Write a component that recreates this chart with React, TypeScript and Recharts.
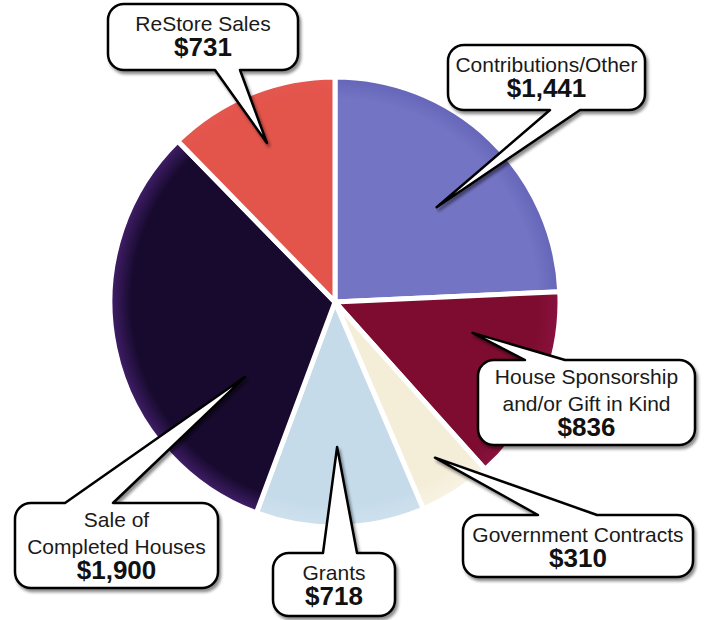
import React from 'react'
import { PieChart, Pie, Cell } from 'recharts'

// Income sources (in thousands), clockwise from 12 o'clock
const categories = [
  'Contributions/Other',
  'House Sponsorship and/or Gift in Kind',
  'Government Contracts',
  'Grants',
  'Sale of Completed Houses',
  'ReStore Sales',
]
const values = [1441, 836, 310, 718, 1900, 731]
const valueLabels = ['$1,441', '$836', '$310', '$718', '$1,900', '$731']
const labelLines = [
  ['Contributions/Other'],
  ['House Sponsorship', 'and/or Gift in Kind'],
  ['Government Contracts'],
  ['Grants'],
  ['Sale of', 'Completed Houses'],
  ['ReStore Sales'],
]

const colors = [
  { inner: '#7474c4', outer: '#6464b8' },
  { inner: '#7e0c30', outer: '#8a1240' },
  { inner: '#f4eed9', outer: '#f8f3e4' },
  { inner: '#c6dbea', outer: '#cfe1ee' },
  { inner: '#170a2e', outer: '#45206e' },
  { inner: '#e3544b', outer: '#e4574f' },
]

// callout bubble layout (box, pointer base on a side, tip relative to slice middle)
const bubbles = [
  { x: 448, y: 45, w: 197, h: 65, side: 'bottom', b1: 550, b2: 580, shift: -3.3, r: 139 },
  { x: 478, y: 360, w: 217, h: 85, side: 'top', b1: 525, b2: 565, shift: 10.1, r: 141 },
  { x: 463, y: 515, w: 230, h: 62, side: 'top', b1: 538, b2: 597, shift: 0.2, r: 185 },
  { x: 273, y: 553, w: 122, h: 63, side: 'top', b1: 323, b2: 357, shift: -0.5, r: 145 },
  { x: 15, y: 503, w: 203, h: 85, side: 'top', b1: 65, b2: 113, shift: 27.8, r: 117 },
  { x: 108, y: 4, w: 190, h: 66, side: 'bottom', b1: 215, b2: 240, shift: 1, r: 173 },
]

const data = categories.map((name, i) => ({ name, value: values[i] }))

const RAD = Math.PI / 180
const FONT = '"Liberation Sans", Arial, sans-serif'

const bubblePath = (b: any, tx: number, ty: number) => {
  const { x, y, w, h } = b
  const r = 16
  if (b.side === 'bottom') {
    return `M${x + r},${y} H${x + w - r} A${r},${r} 0 0 1 ${x + w},${y + r} V${y + h - r} A${r},${r} 0 0 1 ${x + w - r},${y + h} H${b.b2} L${tx},${ty} L${b.b1},${y + h} H${x + r} A${r},${r} 0 0 1 ${x},${y + h - r} V${y + r} A${r},${r} 0 0 1 ${x + r},${y} Z`
  }
  return `M${x + r},${y} H${b.b1} L${tx},${ty} L${b.b2},${y} H${x + w - r} A${r},${r} 0 0 1 ${x + w},${y + r} V${y + h - r} A${r},${r} 0 0 1 ${x + w - r},${y + h} H${x + r} A${r},${r} 0 0 1 ${x},${y + h - r} V${y + r} A${r},${r} 0 0 1 ${x + r},${y} Z`
}

const renderBubble = (props: any) => {
  const { cx, cy, midAngle, index } = props
  const b = bubbles[index]
  const a = (midAngle + b.shift) * RAD
  const tx = cx + b.r * Math.cos(a)
  const ty = cy - b.r * Math.sin(a)
  const lines = labelLines[index]
  const mid = b.x + b.w / 2
  const first = b.y + (lines.length > 1 ? 24 : 27)
  const valueY = first + (lines.length - 1) * 27 + 25
  return (
    <g key={`bubble-${index}`}>
      <path d={bubblePath(b, tx, ty)} fill="#fff" stroke="#000" strokeWidth={2.5} strokeLinejoin="round" filter="url(#bubbleShadow)" />
      {lines.map((t, j) => (
        <text key={j} x={mid} y={first + j * 27} textAnchor="middle" fontFamily={FONT} fontSize={21} fill="#1a1a1a">
          {t}
        </text>
      ))}
      <text x={mid} y={valueY} textAnchor="middle" fontFamily={FONT} fontSize={26} fontWeight="bold" fill="#111">
        {valueLabels[index]}
      </text>
    </g>
  )
}

export default function App() {
  return (
    <div style={{ position: 'absolute', left: 0, top: 0, width: 704, height: 620, background: '#fff' }}>
      <PieChart width={704} height={620} margin={{ top: 0, right: 0, bottom: 0, left: 0 }}>
        <defs>
          {colors.map((c, i) => (
            <radialGradient key={i} id={`slice-${i}`} gradientUnits="userSpaceOnUse" cx={335} cy={302} r={226}>
              <stop offset="0%" stopColor={c.inner} />
              <stop offset="90%" stopColor={c.inner} />
              <stop offset="100%" stopColor={c.outer} />
            </radialGradient>
          ))}
          <filter id="bubbleShadow" x="-10%" y="-10%" width="125%" height="130%">
            <feDropShadow dx="2" dy="3" stdDeviation="1.5" floodColor="#000" floodOpacity="0.45" />
          </filter>
        </defs>
        <Pie
          data={data}
          dataKey="value"
          nameKey="name"
          cx={335}
          cy={302}
          outerRadius={225}
          startAngle={90}
          endAngle={-270}
          stroke="#fff"
          strokeWidth={5}
          label={renderBubble}
          labelLine={false}
          isAnimationActive={false}
        >
          {data.map((d, i) => (
            <Cell key={d.name} fill={`url(#slice-${i})`} />
          ))}
        </Pie>
      </PieChart>
    </div>
  )
}
